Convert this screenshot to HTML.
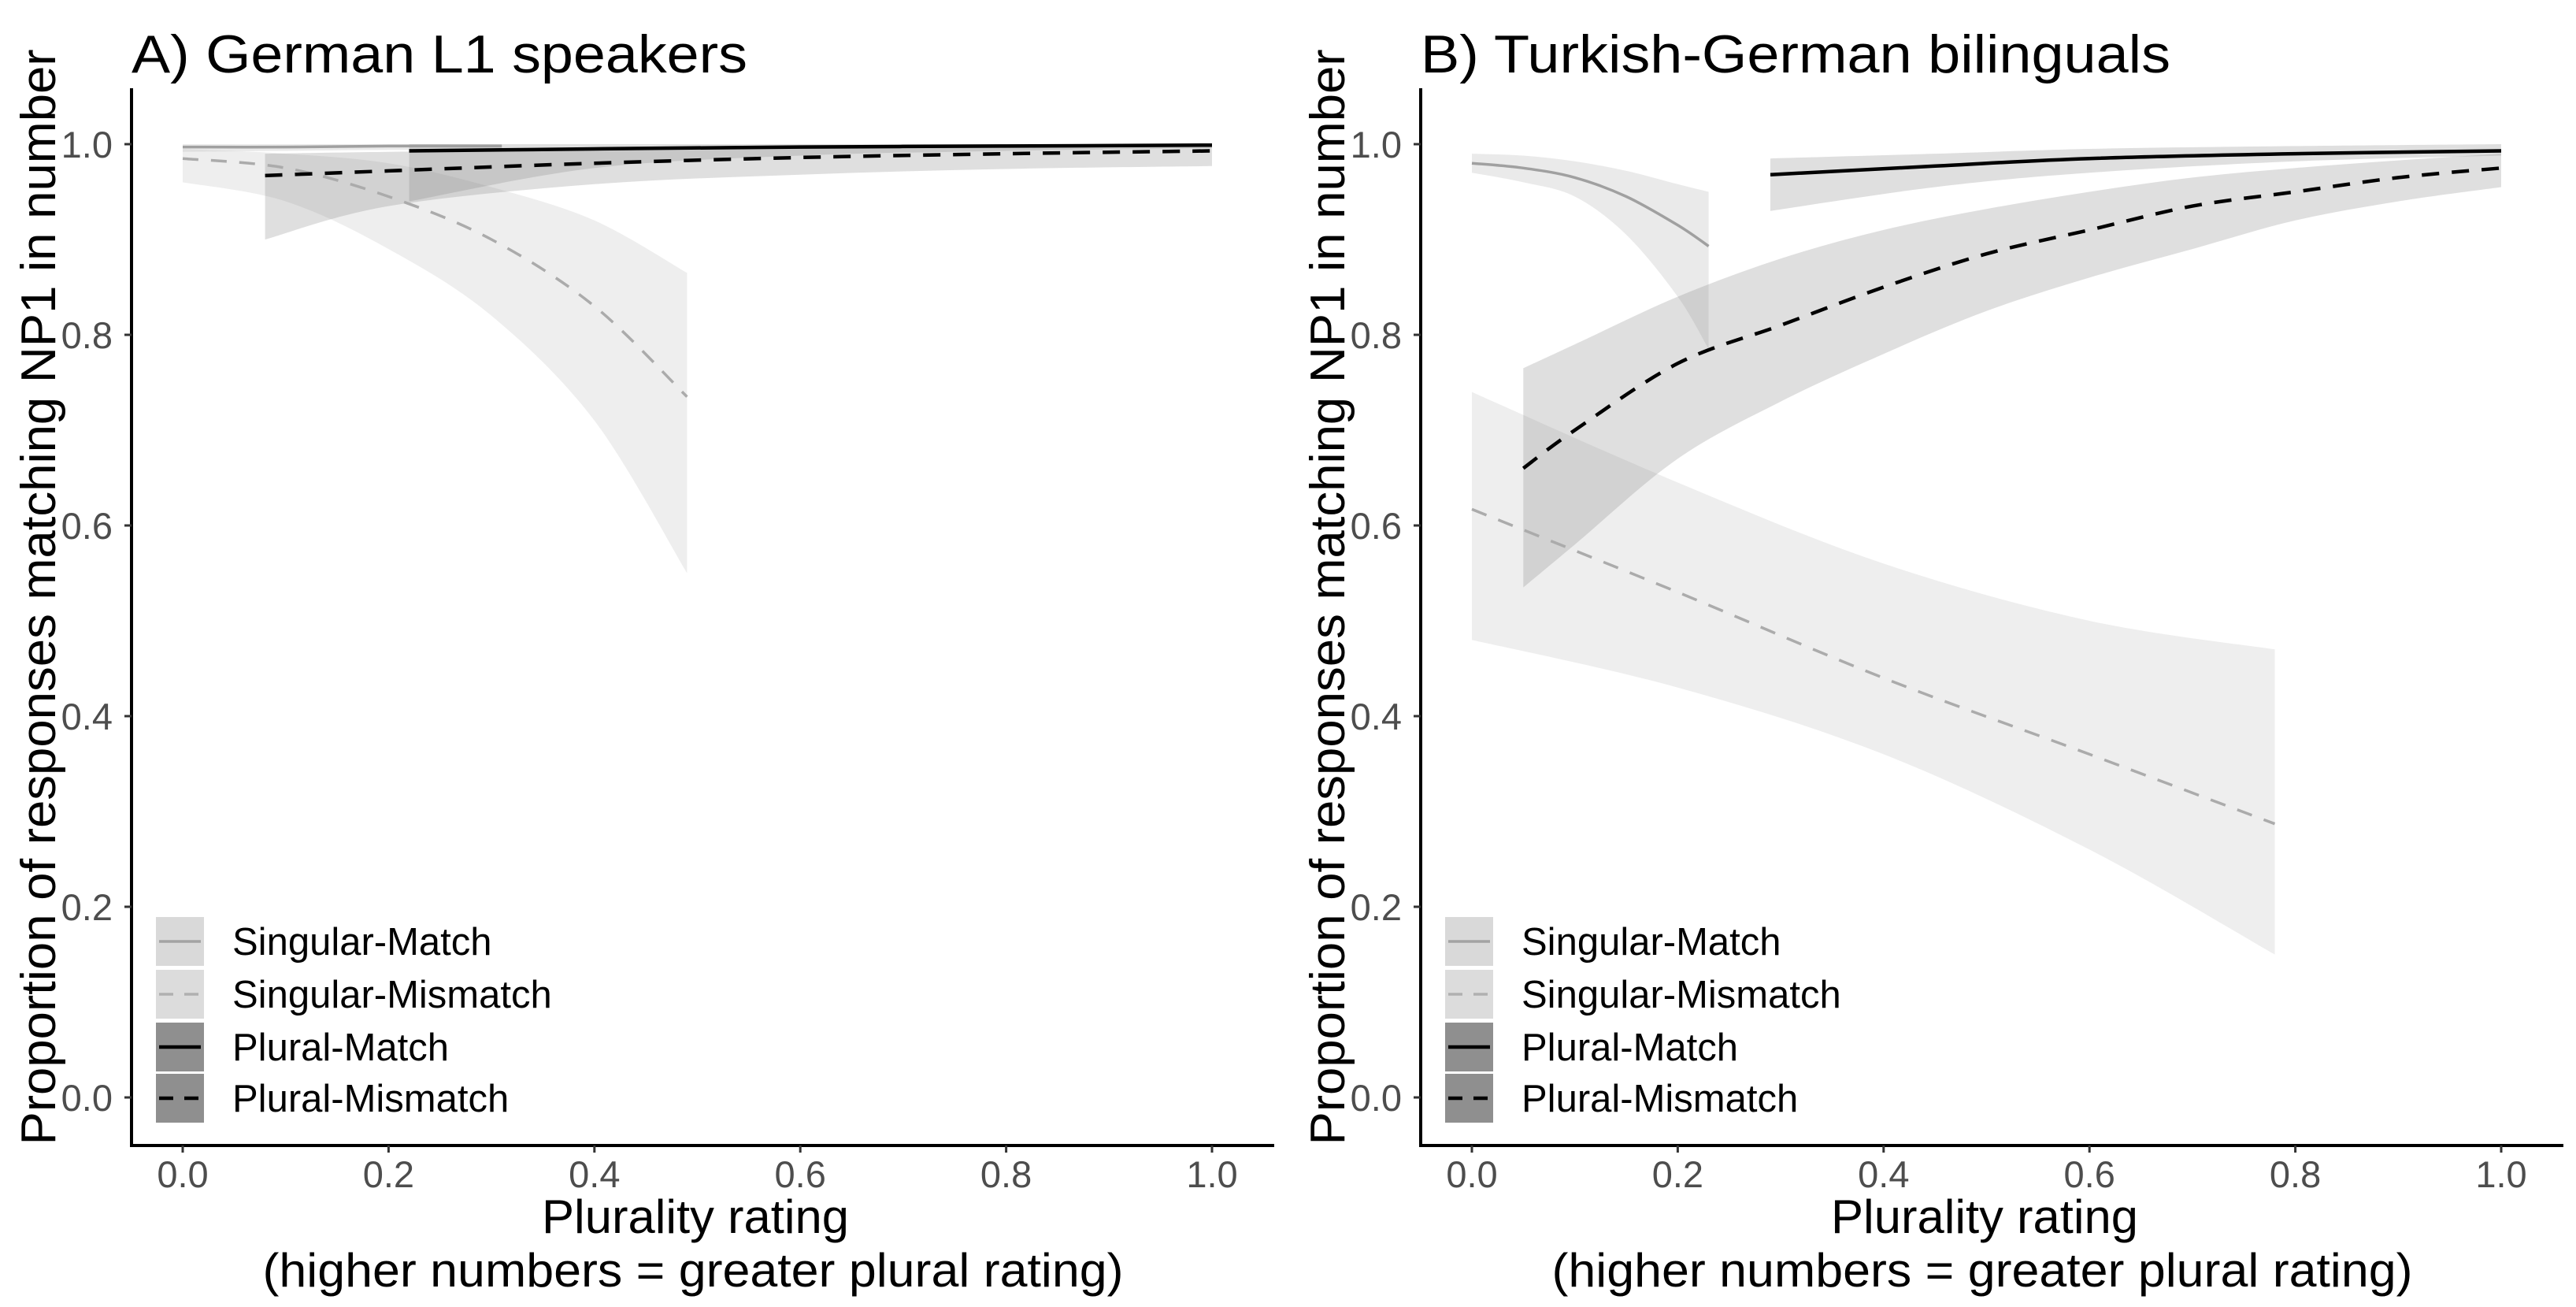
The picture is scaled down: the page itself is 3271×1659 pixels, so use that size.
<!DOCTYPE html>
<html><head><meta charset="utf-8"><style>
html,body{margin:0;padding:0;background:#fff;}
svg{display:block;font-family:"Liberation Sans",Arial,sans-serif;}
</style></head><body>
<svg id="chart" width="3271" height="1659" viewBox="0 0 3271 1659" xmlns="http://www.w3.org/2000/svg"></svg>
<script>
// ---- data ----
const xTicks = [0, 0.2, 0.4, 0.6, 0.8, 1.0];
const xTickLabels = ["0.0","0.2","0.4","0.6","0.8","1.0"];
const yTicks = [0, 0.2, 0.4, 0.6, 0.8, 1.0];
const yTickLabels = ["0.0","0.2","0.4","0.6","0.8","1.0"];
const seriesNames = ["Singular-Match","Singular-Mismatch","Plural-Match","Plural-Mismatch"];

// Panel A: German L1 speakers
const aSgMatchX   = [0, 0.1, 0.2, 0.31];
const aSgMatchFit = [0.997, 0.997, 0.998, 0.998];
const aSgMatchLo  = [0.992, 0.993, 0.994, 0.994];
const aSgMatchHi  = [1.0, 1.0, 1.0, 1.0];
const aSgMisX   = [0, 0.1, 0.2, 0.3, 0.4, 0.49];
const aSgMisFit = [0.985, 0.975, 0.945, 0.90, 0.83, 0.735];
const aSgMisLo  = [0.96, 0.94, 0.89, 0.82, 0.71, 0.55];
const aSgMisHi  = [0.995, 0.99, 0.98, 0.955, 0.92, 0.865];
const aPlMatchX   = [0.22, 0.4, 0.6, 0.8, 1.0];
const aPlMatchFit = [0.993, 0.995, 0.997, 0.998, 0.999];
const aPlMatchLo  = [0.94, 0.975, 0.988, 0.993, 0.996];
const aPlMatchHi  = [1.0, 1.0, 1.0, 1.0, 1.0];
const aPlMisX   = [0.08, 0.2, 0.4, 0.6, 0.8, 1.0];
const aPlMisFit = [0.967, 0.972, 0.980, 0.986, 0.990, 0.993];
const aPlMisLo  = [0.90, 0.935, 0.958, 0.968, 0.974, 0.977];
const aPlMisHi  = [0.99, 0.992, 0.994, 0.996, 0.997, 0.998];

// Panel B: Turkish-German bilinguals
const bSgMatchX   = [0, 0.05, 0.1, 0.15, 0.2, 0.23];
const bSgMatchFit = [0.98, 0.975, 0.965, 0.945, 0.915, 0.893];
const bSgMatchLo  = [0.97, 0.96, 0.945, 0.905, 0.84, 0.785];
const bSgMatchHi  = [0.99, 0.988, 0.982, 0.972, 0.958, 0.95];
const bSgMisX   = [0, 0.2, 0.4, 0.6, 0.78];
const bSgMisFit = [0.617, 0.53, 0.44, 0.36, 0.287];
const bSgMisLo  = [0.48, 0.43, 0.36, 0.26, 0.15];
const bSgMisHi  = [0.74, 0.645, 0.56, 0.50, 0.47];
const bPlMatchX   = [0.29, 0.45, 0.6, 0.8, 1.0];
const bPlMatchFit = [0.968, 0.977, 0.985, 0.99, 0.993];
const bPlMatchLo  = [0.93, 0.955, 0.97, 0.982, 0.988];
const bPlMatchHi  = [0.985, 0.99, 0.995, 0.998, 1.0];
const bPlMisX   = [0.05, 0.1, 0.2, 0.3, 0.4, 0.5, 0.6, 0.7, 0.8, 0.9, 1.0];
const bPlMisFit = [0.66, 0.70, 0.77, 0.81, 0.85, 0.885, 0.91, 0.935, 0.95, 0.965, 0.975];
const bPlMisLo  = [0.535, 0.58, 0.67, 0.73, 0.78, 0.825, 0.86, 0.89, 0.92, 0.94, 0.955];
const bPlMisHi  = [0.765, 0.79, 0.84, 0.88, 0.91, 0.932, 0.95, 0.965, 0.975, 0.983, 0.99];

// ---- rendering ----
const NS = "http://www.w3.org/2000/svg";
const svg = document.getElementById("chart");
function mk(tag, attrs, parent) {
  const e = document.createElementNS(NS, tag);
  for (const k in attrs) e.setAttribute(k, attrs[k]);
  (parent || svg).appendChild(e);
  return e;
}
function smooth(pts, move) {
  let d = (move ? "M" : "L") + pts[0][0].toFixed(1) + "," + pts[0][1].toFixed(1);
  for (let i = 0; i < pts.length - 1; i++) {
    const p0 = pts[Math.max(0, i - 1)], p1 = pts[i], p2 = pts[i + 1], p3 = pts[Math.min(pts.length - 1, i + 2)];
    const c1x = p1[0] + (p2[0] - p0[0]) / 6, c1y = p1[1] + (p2[1] - p0[1]) / 6;
    const c2x = p2[0] - (p3[0] - p1[0]) / 6, c2y = p2[1] - (p3[1] - p1[1]) / 6;
    d += "C" + c1x.toFixed(1) + "," + c1y.toFixed(1) + " " + c2x.toFixed(1) + "," + c2y.toFixed(1) + " " + p2[0].toFixed(1) + "," + p2[1].toFixed(1);
  }
  return d;
}
const styles = [
  {fill:"#bdbdbd", fo:0.32, stroke:"#a0a0a0", sw:3.5, dash:null, key:"#d9d9d9", keyLine:"#a3a3a3"},
  {fill:"#c8c8c8", fo:0.30, stroke:"#ababab", sw:3.5, dash:"20 16", key:"#dcdcdc", keyLine:"#b0b0b0"},
  {fill:"#7f7f7f", fo:0.25, stroke:"#000", sw:4.5, dash:null, key:"#8f8f8f", keyLine:"#000"},
  {fill:"#7f7f7f", fo:0.25, stroke:"#000", sw:4.5, dash:"22 16", key:"#8f8f8f", keyLine:"#000"}
];

function panel(id, off, title, titleLen, series) {
  const g = mk("g", { });
  const X0 = 232 + off, X1 = 1539 + off, Y0 = 1393, Y1 = 183;
  const sx = v => X0 + (X1 - X0) * v;
  const sy = v => Y0 + (Y1 - Y0) * v;
  const axL = 167 + off, axB = 1454, axT = 112, axR = 1618 + off;

  const t = mk("text", {x:167+off, y:92, "font-size":68, fill:"#000", textLength:titleLen, lengthAdjust:"spacingAndGlyphs"}, g);
  
  
  t.textContent = title;

  series.forEach((s, i) => {
    const up = s.x.map((xv, j) => [sx(xv), sy(s.hi[j])]);
    const dn = s.x.map((xv, j) => [sx(xv), sy(s.lo[j])]).reverse();
    const d = smooth(up, true) + smooth(dn, false) + "Z";
    const p = mk("path", {d:d, fill:styles[i].fill, "fill-opacity":styles[i].fo, stroke:"none"}, g);
    
    
  });
  series.forEach((s, i) => {
    const pts = s.x.map((xv, j) => [sx(xv), sy(s.fit[j])]);
    const a = {d:smooth(pts, true), fill:"none", stroke:styles[i].stroke, "stroke-width":styles[i].sw};
    if (styles[i].dash) a["stroke-dasharray"] = styles[i].dash;
    const l = mk("path", a, g);
    
    
  });

  const ax = mk("path", {d:`M${axL},${axT}V${axB}H${axR}`, fill:"none", stroke:"#000", "stroke-width":4}, g);
  
  
  xTicks.forEach((v, i) => {
    mk("line", {x1:sx(v), x2:sx(v), y1:axB, y2:axB+9, stroke:"#333", "stroke-width":3}, g);
    const tl = mk("text", {x:sx(v), y:1507, "font-size":47, fill:"#4d4d4d", "text-anchor":"middle"}, g);
    
    
    tl.textContent = xTickLabels[i];
  });
  yTicks.forEach((v, i) => {
    mk("line", {x1:axL-9, x2:axL, y1:sy(v), y2:sy(v), stroke:"#333", "stroke-width":3}, g);
    const tl = mk("text", {x:143+off, y:sy(v)+17, "font-size":47, fill:"#4d4d4d", "text-anchor":"end"}, g);
    
    
    tl.textContent = yTickLabels[i];
  });

  const yt = mk("text", {x:0, y:0, "font-size":62, fill:"#000", "text-anchor":"middle", transform:`translate(${70+off},${758}) rotate(-90)`, textLength:1391, lengthAdjust:"spacingAndGlyphs"}, g);
  
  
  yt.textContent = "Proportion of responses matching NP1 in number";
  const xt1 = mk("text", {x:883+off, y:1565, "font-size":60, fill:"#000", "text-anchor":"middle", textLength:390, lengthAdjust:"spacingAndGlyphs"}, g);
  
  
  xt1.textContent = "Plurality rating";
  const xt2 = mk("text", {x:880+off, y:1633, "font-size":60, fill:"#000", "text-anchor":"middle", textLength:1093, lengthAdjust:"spacingAndGlyphs"}, g);
  
  
  xt2.textContent = "(higher numbers = greater plural rating)";

  const lg = mk("g", {}, g);
  
  
  const rowsY = [1195, 1262, 1329, 1394];
  seriesNames.forEach((n, i) => {
    const e = mk("g", {}, lg);
    
    
    const cy = rowsY[i];
    mk("rect", {x:198+off, y:cy-31, width:61, height:62, fill:styles[i].key}, e);
    const la = {x1:202+off, x2:255+off, y1:cy, y2:cy, stroke:styles[i].keyLine, "stroke-width":styles[i].sw};
    if (styles[i].dash) la["stroke-dasharray"] = "18 14";
    mk("line", la, e);
    const tx = mk("text", {x:295+off, y:cy+17, "font-size":49, fill:"#000"}, e);
    tx.textContent = n;
  });
}

panel("panel-a", 0, "A) German L1 speakers", 782, [
  {x:aSgMatchX, fit:aSgMatchFit, lo:aSgMatchLo, hi:aSgMatchHi},
  {x:aSgMisX, fit:aSgMisFit, lo:aSgMisLo, hi:aSgMisHi},
  {x:aPlMatchX, fit:aPlMatchFit, lo:aPlMatchLo, hi:aPlMatchHi},
  {x:aPlMisX, fit:aPlMisFit, lo:aPlMisLo, hi:aPlMisHi}
]);
panel("panel-b", 1637, "B) Turkish-German bilinguals", 952, [
  {x:bSgMatchX, fit:bSgMatchFit, lo:bSgMatchLo, hi:bSgMatchHi},
  {x:bSgMisX, fit:bSgMisFit, lo:bSgMisLo, hi:bSgMisHi},
  {x:bPlMatchX, fit:bPlMatchFit, lo:bPlMatchLo, hi:bPlMatchHi},
  {x:bPlMisX, fit:bPlMisFit, lo:bPlMisLo, hi:bPlMisHi}
]);
</script>
</body></html>
